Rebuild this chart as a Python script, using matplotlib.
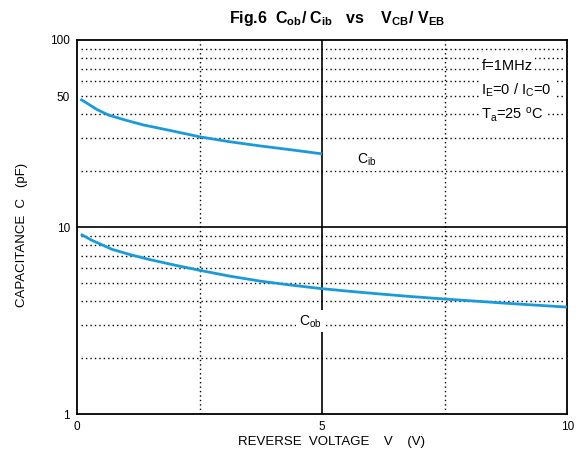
import numpy as np
import matplotlib
matplotlib.use('Agg')
import matplotlib.pyplot as plt

plt.rcParams['font.family'] = ['Liberation Sans', 'DejaVu Sans']
plt.rcParams['mathtext.fontset'] = 'custom'
plt.rcParams['mathtext.rm'] = 'Liberation Sans'
plt.rcParams['mathtext.it'] = 'Liberation Sans'
plt.rcParams['mathtext.bf'] = 'Liberation Sans:bold'

# values
cib_v = [0.07, 0.2, 0.4, 0.64, 1.0, 1.36, 2.0, 2.49, 3.1, 3.75, 4.4, 5.0]
cib_c = [48.2, 46.0, 42.6, 39.7, 37.2, 35.1, 32.4, 30.4, 28.6, 27.1, 25.8, 24.6]
cob_v = [0.08, 0.3, 0.72, 1.1, 1.48, 2.0, 2.5, 3.1, 3.75, 4.4, 5.0, 5.6, 6.2, 6.8, 7.5, 8.1, 8.7, 9.3, 10.0]
cob_c = [9.14, 8.5, 7.59, 7.1, 6.70, 6.25, 5.87, 5.47, 5.13, 4.88, 4.68, 4.52, 4.38, 4.25, 4.12, 4.02, 3.92, 3.83, 3.73]

xticks = [0, 5, 10]
yticks = [1, 10, 50, 100]

fig = plt.figure(figsize=(5.83, 4.54), dpi=100)
ax = fig.add_axes([0.132, 0.088, 0.841, 0.824])
ax.set_yscale('log')
ax.set_xlim(0, 10)
ax.set_ylim(1, 100)

# grid: dotted minor, solid at 10 and V=5
for dec in [1, 10]:
    for m in range(2, 10):
        ax.axhline(dec * m, xmin=0.008, xmax=0.992, color='black', linestyle=(0, (1, 2.2)), linewidth=1.0, zorder=1)
for xv in [2.5, 7.5]:
    ax.axvline(xv, color='black', linestyle=(0, (1, 2.2)), linewidth=1.0, zorder=1)
ax.axhline(10, color='black', linewidth=1.2, zorder=1)
ax.axvline(5, color='black', linewidth=1.2, zorder=1)

ax.plot(cib_v, cib_c, color='#1a9ad9', linewidth=2.0, zorder=3, solid_capstyle='butt')
ax.plot(cob_v, cob_c, color='#1a9ad9', linewidth=2.0, zorder=3, solid_capstyle='butt')

box = dict(facecolor='white', edgecolor='none', pad=2)
ax.text(5.9, 22.9, r'C$_{\mathrm{ib}}$', fontsize=10, ha='center', va='center', bbox=box, zorder=4)
ax.text(4.75, 3.13, r'C$_{\mathrm{ob}}$', fontsize=10, ha='center', va='center', bbox=box, zorder=4)

ax.text(8.25, 73, 'f=1MHz', fontsize=10.5, ha='left', va='center', bbox=box, zorder=4)
ax.text(8.25, 54, r'I$_{\mathrm{E}}$=0 / I$_{\mathrm{C}}$=0', fontsize=10.5, ha='left', va='center', bbox=box, zorder=4)
ax.text(8.25, 40, r'T$_{\mathrm{a}}$=25 $^{\mathrm{o}}$C', fontsize=10.5, ha='left', va='center', bbox=box, zorder=4)

ax.set_xticks(xticks)
ax.set_xticklabels([str(t) for t in xticks])
ax.set_yticks(yticks)
ax.set_yticklabels([str(t) for t in yticks])
ax.yaxis.set_minor_locator(matplotlib.ticker.NullLocator())
ax.tick_params(length=0, labelsize=8.5, pad=5)

for s in ax.spines.values():
    s.set_linewidth(1.3)

ax.set_xlabel('REVERSE  VOLTAGE    V    (V)', fontsize=9.5, labelpad=2, x=0.52)
ax.set_ylabel('CAPACITANCE  C   (pF)', fontsize=9.5, labelpad=16, y=0.48)
ax.set_title(r'Fig.6  C$_{\mathbf{ob}}$/ C$_{\mathbf{ib}}$   vs    V$_{\mathbf{CB}}$/ V$_{\mathbf{EB}}$',
             fontsize=11.5, fontweight='bold', pad=12, x=0.53)

fig.savefig('out.png', dpi=100)
